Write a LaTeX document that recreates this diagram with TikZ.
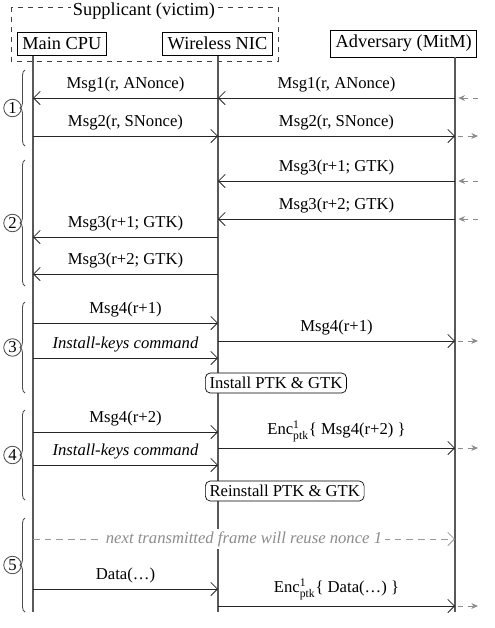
\documentclass[tikz,border=0pt]{standalone}
\usepackage{fontspec}
\setmainfont{Liberation Serif}
\usetikzlibrary{arrows.meta,positioning,decorations.pathreplacing}
\tikzset{
actor/.style={draw,fill=white,inner sep=3pt,minimum height=14pt,font=\fontsize{11}{13}\selectfont},
life/.style={draw=black!65,line width=.8pt},
msg/.style={-{Straight Barb[length=4pt,width=8pt]},draw=black!85,line width=.5pt},
ext/.style={-{Stealth[length=4pt,width=3.5pt]},draw=black!45,dash pattern=on 3pt off 3pt,line width=.5pt},
dashmsg/.style={-{Straight Barb[length=4pt,width=8pt]},draw=black!40,dash pattern=on 4pt off 3pt,line width=.5pt},
note/.style={draw,rounded corners=3pt,fill=white,inner sep=2.5pt,font=\normalsize},
phasebrace/.style={decorate,decoration={brace,amplitude=3pt},draw=black!70,line width=.5pt},
stepnum/.style={circle,draw,line width=.5pt,inner sep=0pt,minimum size=10.5pt,font=\normalsize,left=2pt}
}

\begin{document}
\begin{tikzpicture}[x=.6pt,y=-.6pt]
\useasboundingbox (0,0) rectangle (495,628);

% actors
\draw[draw=black!75,dashed,line width=.6pt] (11,7) rectangle (278,61);
\node[fill=white,inner sep=1pt,font=\fontsize{11}{13}\selectfont] (supp) at (144,11) {Supplicant (victim)};
\node[actor,anchor=west] (cpubox) at (17,43.5) {Main CPU};
\node[actor] (nicbox) at (217.5,43.5) {Wireless NIC};
\node[actor,anchor=east,minimum height=16pt] (advbox) at (477,43.5) {Adversary (MitM)};

% lifelines
\coordinate (cpu) at (33,0);
\coordinate (nic) at (218,0);
\coordinate (adv) at (455,0);
\coordinate (out) at (478,0);
\coordinate (bot) at (0,612);
\draw[life] (cpu |- cpubox.south) -- (cpu |- bot);
\draw[life] (nic |- nicbox.south) -- (nic |- bot);
\draw[life] (adv |- advbox.south) -- (adv |- bot);

% message rows
\foreach \row/\y in {m1/98,m2/136,m3/181,m4/219,m5/237,m6/274,m7/323,m8/341,m9/358,
  i1/383,m10/432,m11/448,m12/465,i2/491,m13/539,m14/589,m15/606}
  \coordinate (\row) at (0,\y);

% phase 1
\draw[msg] (adv |- m1) -- node[above]{Msg1(r, ANonce)} (nic |- m1);
\draw[msg] (nic |- m1) -- node[above]{Msg1(r, ANonce)} (cpu |- m1);
\draw[ext,shorten >=2pt] (out |- m1) -- (adv |- m1);
\draw[msg] (cpu |- m2) -- node[above]{Msg2(r, SNonce)} (nic |- m2);
\draw[msg] (nic |- m2) -- node[above]{Msg2(r, SNonce)} (adv |- m2);
\draw[ext,shorten <=2pt] (adv |- m2) -- (out |- m2);

% phase 2
\draw[msg] (adv |- m3) -- node[above]{Msg3(r+1; GTK)} (nic |- m3);
\draw[ext,shorten >=2pt] (out |- m3) -- (adv |- m3);
\draw[msg] (adv |- m4) -- node[above]{Msg3(r+2; GTK)} (nic |- m4);
\draw[ext,shorten >=2pt] (out |- m4) -- (adv |- m4);
\draw[msg] (nic |- m5) -- node[above]{Msg3(r+1; GTK)} (cpu |- m5);
\draw[msg] (nic |- m6) -- node[above]{Msg3(r+2; GTK)} (cpu |- m6);

% phase 3
\draw[msg] (cpu |- m7) -- node[above]{Msg4(r+1)} (nic |- m7);
\draw[msg] (nic |- m8) -- node[above]{Msg4(r+1)} (adv |- m8);
\draw[ext,shorten <=2pt] (adv |- m8) -- (out |- m8);
\draw[msg] (cpu |- m9) -- node[above,font=\itshape]{Install-keys command} (nic |- m9);
\node[note,anchor=west] (inst) at (205,383) {Install PTK \& GTK};

% phase 4
\draw[msg] (cpu |- m10) -- node[above]{Msg4(r+2)} (nic |- m10);
\draw[msg] (nic |- m11) -- node[above]{Enc$^{\mbox{\scriptsize 1}}_{\mbox{\scriptsize ptk}}$\{ Msg4(r+2) \}} (adv |- m11);
\draw[ext,shorten <=2pt] (adv |- m11) -- (out |- m11);
\draw[msg] (cpu |- m12) -- node[above,font=\itshape]{Install-keys command} (nic |- m12);
\node[note,anchor=west] (reinst) at (205,491) {Reinstall PTK \& GTK};

% phase 5
\draw[dashmsg] (cpu |- m13) -- node[fill=white,text=black!45,font=\itshape,inner sep=1.5pt]{next transmitted frame will reuse nonce 1} (adv |- m13);
\draw[msg] (cpu |- m14) -- node[above]{Data(\ldots)} (nic |- m14);
\draw[msg] (nic |- m15) -- node[above]{Enc$^{\mbox{\scriptsize 1}}_{\mbox{\scriptsize ptk}}$\{ Data(\ldots) \}} (adv |- m15);
\draw[ext,shorten <=2pt] (adv |- m15) -- (out |- m15);

% phases
\draw[phasebrace] (25,146) -- node[stepnum] (s1) {1} (25,70);
\draw[phasebrace] (25,286) -- node[stepnum] (s2) {2} (25,160);
\draw[phasebrace] (25,393) -- node[stepnum] (s3) {3} (25,302);
\draw[phasebrace] (25,500) -- node[stepnum] (s4) {4} (25,410);
\draw[phasebrace] (25,612) -- node[stepnum] (s5) {5} (25,518);
\end{tikzpicture}
\end{document}
